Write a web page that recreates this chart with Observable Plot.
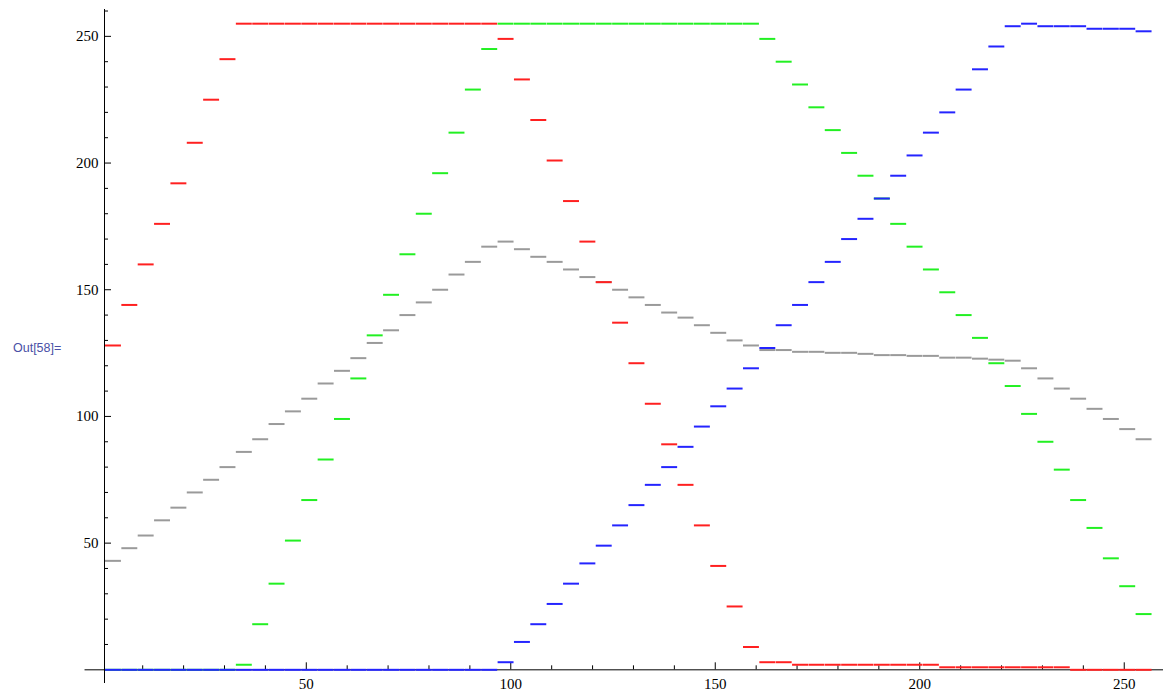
<!DOCTYPE html>
<html>
<head>
<meta charset="utf-8">
<script src="https://cdn.jsdelivr.net/npm/d3@7"></script>
<script src="https://cdn.jsdelivr.net/npm/@observablehq/plot@0.6"></script>
<style>
  html, body { margin: 0; padding: 0; background: #fff; }
  #wrap { position: relative; width: 1163px; height: 692px; }
  #wrap svg { position: absolute; left: 0; top: 0; }
  #out { position: absolute; left: 13px; top: 341px; z-index: 2; font: 12.5px "Liberation Sans", Arial, sans-serif; color: #4a50a6; }
</style>
</head>
<body>
<div id="wrap"><div id="out">Out[58]=</div></div>
<script>
// Channel levels of a 256-entry colour table, one value per run of 4 entries.
const samplesPerStep = 4;

const red = [
  128, 144, 160, 176, 192, 208, 225, 241,
  255, 255, 255, 255, 255, 255, 255, 255, 255, 255, 255, 255, 255, 255, 255, 255,
  249, 233, 217, 201, 185, 169, 153, 137, 121, 105, 89, 73, 57, 41, 25, 9,
  3, 3,
  2, 2, 2, 2, 2, 2, 2, 2, 2,
  1, 1, 1, 1, 1, 1, 1, 1,
  0, 0, 0, 0, 0
];

const green = [
  0, 0, 0, 0, 0, 0, 0, 0,
  2, 18, 34, 51, 67, 83, 99, 115, 132, 148, 164, 180, 196, 212, 229, 245,
  255, 255, 255, 255, 255, 255, 255, 255, 255, 255, 255, 255, 255, 255, 255, 255,
  249, 240, 231, 222, 213, 204, 195, 186, 176, 167, 158, 149, 140,
  131, 121, 112, 101, 90, 79, 67, 56, 44, 33, 22
];

const blue = [
  0, 0, 0, 0, 0, 0, 0, 0, 0, 0, 0, 0, 0, 0, 0, 0, 0, 0, 0, 0, 0, 0, 0, 0,
  3, 11, 18, 26, 34, 42, 49, 57, 65, 73, 80, 88, 96, 104, 111, 119, 127,
  136, 144, 153, 161, 170, 178, 186, 195, 203, 212, 220, 229, 237, 246, 254,
  255, 254, 254, 254, 253, 253, 253, 252
];

const gray = [
  43, 48, 53, 59, 64, 70, 75, 80, 86, 91, 97, 102, 107, 113, 118, 123,
  129, 134, 140, 145, 150, 156, 161, 167,
  169,
  166, 163, 161, 158, 155, 153, 150, 147, 144, 141, 139, 136, 133, 130, 128,
  126.2, 126.2, 125.5, 125.5, 125.1, 125.1, 124.7, 124.2, 124.2, 123.9, 123.9,
  123.2, 123.2, 122.8, 122.4, 122.0,
  119, 115, 111, 107, 103, 99, 95, 91
];

const xMajorTicks = [50, 100, 150, 200, 250];
const xMinorTicks = [10, 20, 30, 40, 60, 70, 80, 90, 110, 120, 130, 140, 160, 170, 180, 190, 210, 220, 230, 240];
const yMajorTicks = [50, 100, 150, 200, 250];
const yMinorTicks = [10, 20, 30, 40, 60, 70, 80, 90, 110, 120, 130, 140, 160, 170, 180, 190, 210, 220, 230, 240, 260];

// Each run of equal levels becomes a short horizontal stroke over its entries.
function runs(values) {
  return values.map((value, k) => ({
    first: k * samplesPerStep + 1,
    last: k * samplesPerStep + samplesPerStep,
    value
  }));
}

const W = 1163, H = 692;
const margin = {left: 104, right: 0, top: 9, bottom: 9};
const xDomain = [0.66, 259.6];
const yDomain = [-5.4, 260.6];
const axisRangeX = [-4.1, 259.6];
const axisOriginX = xDomain[0];
const plotW = W - margin.left - margin.right;
const plotH = H - margin.top - margin.bottom;
const yPx = plotH / (yDomain[1] - yDomain[0]);
const zeroFromBottom = (0 - yDomain[0]) * yPx;
const font = "'Liberation Serif', 'Times New Roman', serif";

function channel(values, color) {
  return Plot.ruleY(runs(values), {
    y: "value",
    x1: d => d.first - 0.1,
    x2: d => d.last + 0.8,
    stroke: color,
    strokeWidth: 2
  });
}

const chart = Plot.plot({
  width: W,
  height: H,
  marginLeft: margin.left,
  marginRight: margin.right,
  marginTop: margin.top,
  marginBottom: margin.bottom,
  x: {domain: xDomain, axis: null},
  y: {domain: yDomain, axis: null},
  style: {background: "transparent", overflow: "visible"},
  marks: [
    // axes
    Plot.ruleY([0], {x1: axisRangeX[0], x2: axisRangeX[1], stroke: "#000", strokeWidth: 1}),
    Plot.ruleX([axisOriginX], {y1: yDomain[0], y2: yDomain[1], stroke: "#000", strokeWidth: 1}),
    Plot.ruleY(yMajorTicks, {y: d => d, insetRight: plotW - 7, stroke: "#000"}),
    Plot.ruleY(yMinorTicks, {y: d => d, insetRight: plotW - 4, stroke: "#000"}),
    Plot.ruleX(xMajorTicks, {x: d => d, insetBottom: zeroFromBottom, insetTop: plotH - zeroFromBottom - 7, stroke: "#000"}),
    Plot.ruleX(xMinorTicks, {x: d => d, insetBottom: zeroFromBottom, insetTop: plotH - zeroFromBottom - 4, stroke: "#000"}),
    Plot.text(yMajorTicks, {y: d => d, text: d => String(d), frameAnchor: "left", dx: -6, textAnchor: "end", fontSize: 15, fontFamily: font, fill: "#000"}),
    Plot.text(xMajorTicks, {x: d => d, text: d => String(d), frameAnchor: "bottom", lineAnchor: "middle", dy: 1, fontSize: 15, fontFamily: font, fill: "#000"}),
    // channel levels
    channel(gray, "#9a9a9a"),
    channel(red, "#ff2020"),
    channel(green, "#22f022"),
    channel(blue, "#2424ff")
  ]
});

document.getElementById("wrap").appendChild(chart);
</script>
</body>
</html>
